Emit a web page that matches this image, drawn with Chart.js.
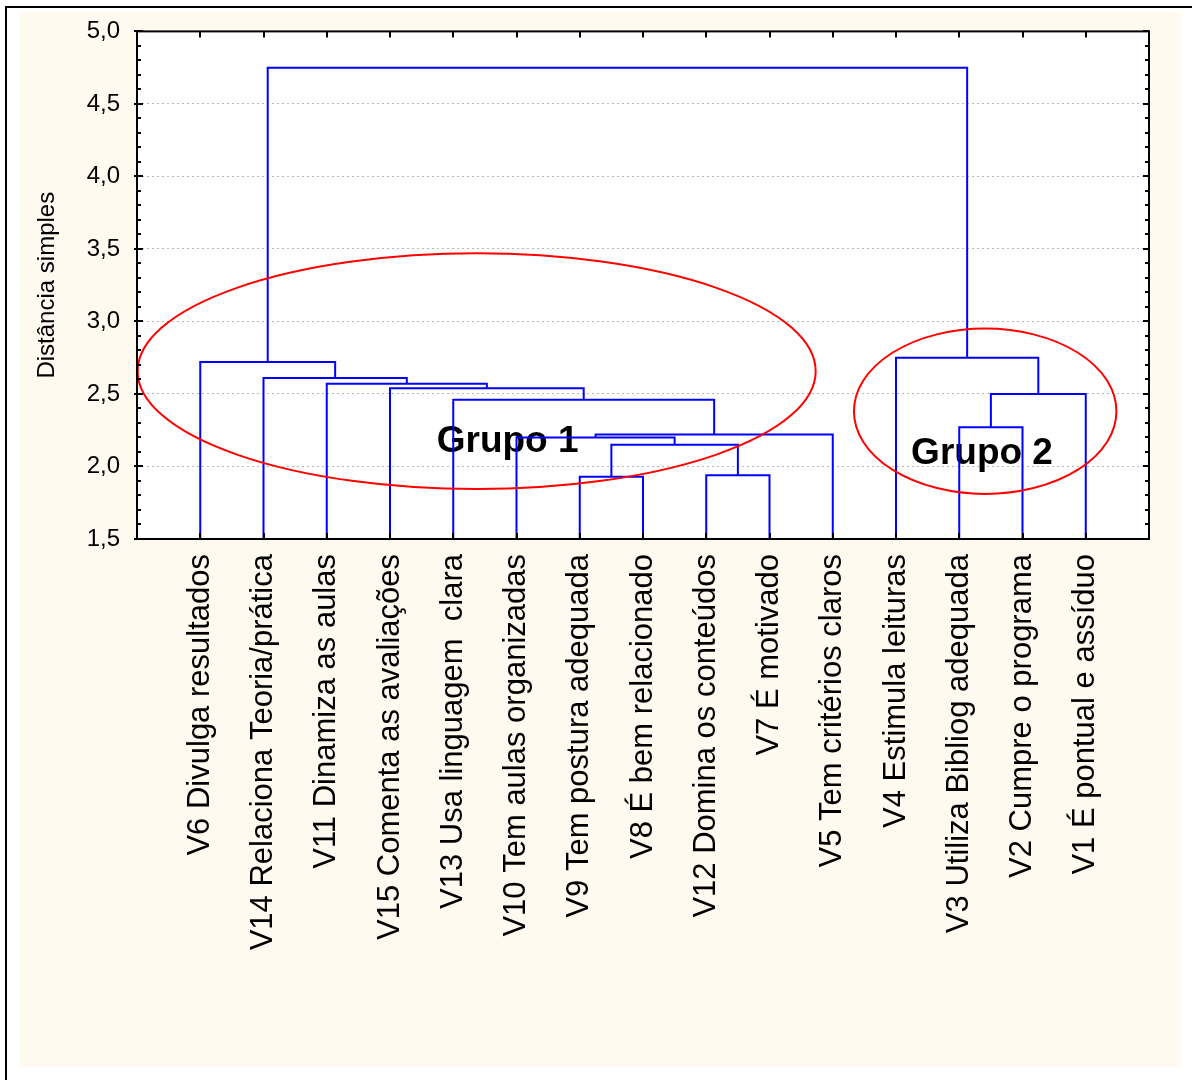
<!DOCTYPE html>
<html>
<head>
<meta charset="utf-8">
<script src="https://cdn.jsdelivr.net/npm/chart.js@4.4.1/dist/chart.umd.min.js"></script>
<style>
html,body{margin:0;padding:0;background:#fff;}
#wrap{width:1192px;height:1080px;position:relative;}
</style>
</head>
<body>
<div id="wrap"><canvas id="c" width="1192" height="1080"></canvas></div>
<script>
// ---- data ----
const leafLabels = [
  "V6 Divulga resultados",
  "V14 Relaciona Teoria/prática",
  "V11 Dinamiza as aulas",
  "V15 Comenta as avaliações",
  "V13 Usa linguagem  clara",
  "V10 Tem aulas organizadas",
  "V9 Tem postura adequada",
  "V8 É bem relacionado",
  "V12 Domina os conteúdos",
  "V7 É motivado",
  "V5 Tem critérios claros",
  "V4 Estimula leituras",
  "V3 Utiliza Bibliog adequada",
  "V2 Cumpre o programa",
  "V1 É pontual e assíduo"
];
// linkage: node ids 0..14 are leaves, 15.. are clusters in merge order
const mergeLeft   = [6, 8, 15, 5, 18, 12, 4, 20, 3, 2, 1, 0, 11, 26];
const mergeRight  = [7, 9, 16, 17, 10, 13, 19, 14, 21, 23, 24, 25, 22, 27];
const mergeHeight = [1.93, 1.94, 2.15, 2.20, 2.22, 2.27, 2.46, 2.50, 2.54, 2.57, 2.61, 2.72, 2.75, 4.75];
const yAxisMin = 1.5;
const yAxisMax = 5.0;
const yTickStep = 0.5;
const yAxisTitle = "Distância simples";
const groupNames = ["Grupo 1", "Grupo 2"];

// annotation geometry (in data units)
const annot = {
  ellipseCx: [5.37, 13.41],
  ellipseCy: [2.657, 2.381],
  ellipseRx: [5.36, 2.075],
  ellipseRy: [0.813, 0.570],
  labelX: [5.86, 13.36],
  labelY: [2.171, 2.085]
};

// ---- build dendrogram segments ----
const nodeX = leafLabels.map((_, i) => i + 1);
const nodeY = leafLabels.map(() => yAxisMin);
const datasets = [];
for (let k = 0; k < mergeHeight.length; k++) {
  const l = mergeLeft[k], r = mergeRight[k], h = mergeHeight[k];
  datasets.push({
    data: [
      {x: nodeX[l], y: nodeY[l]},
      {x: nodeX[l], y: h},
      {x: nodeX[r], y: h},
      {x: nodeX[r], y: nodeY[r]}
    ],
    showLine: true,
    borderColor: '#0000ff',
    borderWidth: 2,
    pointRadius: 0,
    tension: 0,
    fill: false
  });
  nodeX.push((nodeX[l] + nodeX[r]) / 2);
  nodeY.push(h);
}

const FONT = "'Liberation Sans', Arial, Helvetica, sans-serif";

const decor = {
  id: 'decor',
  beforeDraw(chart) {
    const ctx = chart.ctx, a = chart.chartArea;
    ctx.save();
    ctx.fillStyle = '#ffffff';
    ctx.fillRect(0, 0, chart.width, chart.height);
    ctx.fillStyle = '#fffaef';
    ctx.fillRect(20, 12, 1161, 1055);
    ctx.strokeStyle = '#000';
    ctx.lineWidth = 2;
    ctx.beginPath();
    ctx.moveTo(6, chart.height); ctx.lineTo(6, 7); ctx.lineTo(chart.width, 7);
    ctx.stroke();
    ctx.fillStyle = '#ffffff';
    ctx.fillRect(a.left, a.top, a.right - a.left, a.bottom - a.top);
    ctx.restore();
  },
  beforeDatasetsDraw(chart) {
    const ctx = chart.ctx, xs = chart.scales.x, ys = chart.scales.y;
    ctx.save();
    ctx.fillStyle = '#000';
    ctx.font = "bold 37px " + FONT;
    ctx.textAlign = 'center';
    ctx.textBaseline = 'middle';
    groupNames.forEach((g, i) => {
      ctx.fillText(g, xs.getPixelForValue(annot.labelX[i]), ys.getPixelForValue(annot.labelY[i]));
    });
    ctx.restore();
  },
  afterDatasetsDraw(chart) {
    const ctx = chart.ctx, a = chart.chartArea, xs = chart.scales.x, ys = chart.scales.y;
    ctx.save();
    // ellipses
    ctx.strokeStyle = '#ff0000';
    ctx.lineWidth = 2;
    groupNames.forEach((g, i) => {
      const cx = xs.getPixelForValue(annot.ellipseCx[i]);
      const cy = ys.getPixelForValue(annot.ellipseCy[i]);
      const rx = Math.abs(xs.getPixelForValue(annot.ellipseCx[i] + annot.ellipseRx[i]) - cx);
      const ry = Math.abs(ys.getPixelForValue(annot.ellipseCy[i] + annot.ellipseRy[i]) - cy);
      ctx.beginPath();
      ctx.ellipse(cx, cy, rx, ry, 0, 0, Math.PI * 2);
      ctx.stroke();
    });
    // ticks
    ctx.strokeStyle = '#000';
    ctx.lineWidth = 2;
    ctx.beginPath();
    for (let i = 0; i < leafLabels.length; i++) {
      const px = Math.round(xs.getPixelForValue(i + 1));
      ctx.moveTo(px, a.bottom); ctx.lineTo(px, a.bottom - 6);
      ctx.moveTo(px, a.top); ctx.lineTo(px, a.top + 6);
    }
    const nMinor = Math.round((yAxisMax - yAxisMin) / 0.1);
    for (let j = 0; j <= nMinor; j++) {
      const v = yAxisMin + j * 0.1;
      const py = Math.round(ys.getPixelForValue(v));
      const major = (j % 5) === 0;
      const len = major ? 6 : 4;
      ctx.moveTo(a.left - (major ? 3 : 0), py); ctx.lineTo(a.left + len, py);
      ctx.moveTo(a.right, py); ctx.lineTo(a.right - len, py);
    }
    ctx.stroke();
    // frame of plot
    ctx.strokeRect(a.left, a.top, a.right - a.left, a.bottom - a.top);
    ctx.restore();
  }
};

new Chart(document.getElementById('c'), {
  type: 'scatter',
  data: { datasets },
  options: {
    responsive: false,
    animation: false,
    devicePixelRatio: 1,
    layout: { padding: { left: 0, top: 31, right: 43, bottom: 0 } },
    plugins: { legend: { display: false }, tooltip: { enabled: false } },
    scales: {
      x: {
        type: 'linear',
        min: 0,
        max: leafLabels.length + 1,
        afterBuildTicks(scale) {
          scale.ticks = leafLabels.map((_, i) => ({ value: i + 1 }));
        },
        afterFit(scale) { scale.height = 541; },
        grid: { display: false, drawTicks: false },
        border: { display: false },
        ticks: {
          autoSkip: false,
          minRotation: 90,
          maxRotation: 90,
          padding: 15,
          color: '#000',
          font: { family: FONT, size: 31 },
          callback: (v) => leafLabels[Math.round(v) - 1] || ''
        }
      },
      y: {
        type: 'linear',
        min: yAxisMin,
        max: yAxisMax,
        afterFit(scale) { scale.width = 137; },
        grid: {
          color: (c) => (c.tick && (c.tick.value <= yAxisMin + 1e-9 || c.tick.value >= yAxisMax - 1e-9)) ? 'rgba(0,0,0,0)' : '#b8b8b8',
          lineWidth: 1,
          drawTicks: false,
          tickBorderDash: [2, 3]
        },
        border: { display: false, dash: [2, 3] },
        ticks: {
          stepSize: yTickStep,
          padding: 17,
          color: '#000',
          font: { family: FONT, size: 24 },
          callback: (v) => Number(v).toFixed(1).replace('.', ',')
        },
        title: {
          display: true,
          text: yAxisTitle,
          color: '#000',
          font: { family: FONT, size: 24 },
          padding: { top: 33, bottom: 0 }
        }
      }
    }
  },
  plugins: [decor]
});
</script>
</body>
</html>
